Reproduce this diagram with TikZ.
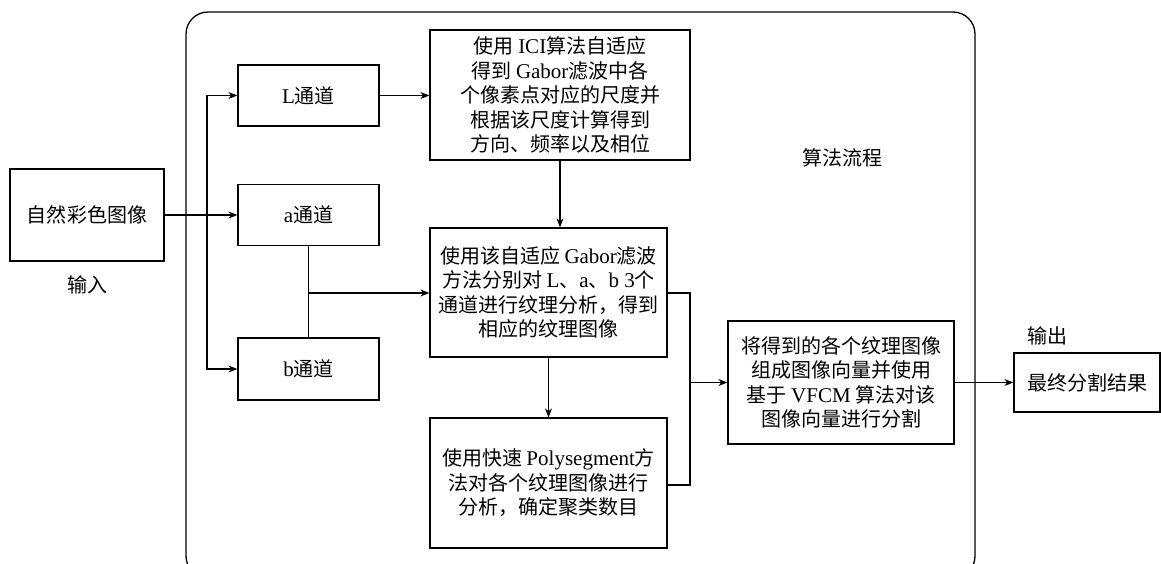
\documentclass[tikz,border=0pt]{standalone}
\usepackage{fontspec}
\setmainfont{Noto Sans CJK SC}
\newfontfamily\latf[Scale=1.05]{Liberation Serif}
\newcommand\lt[1]{{\latf #1}}
\usetikzlibrary{arrows.meta}
\tikzset{
 box/.style={draw, line width=1.3pt, align=center, inner sep=0pt, font=\fontsize{20}{24.5}\selectfont},
 conn/.style={line width=1.1pt, -{Stealth[length=9pt,width=7pt]}},
 plain/.style={line width=1.1pt},
 lab/.style={font=\fontsize{20}{24}\selectfont}
}
\begin{document}
\begin{tikzpicture}[x=1pt,y=-1pt]
\useasboundingbox (0,0) rectangle (1161,563);
\fill[white] (0,0) rectangle (1161,563);
\clip (0,0) rectangle (1161,563);
\draw[line width=1.3pt, rounded corners=22pt] (186,12) rectangle (975,578);

\node[box, minimum width=154, minimum height=92] (in) at (87,215) {自然彩色图像};
\node[box, minimum width=141, minimum height=61] (L) at (308.5,95.5) {\lt{L}通道};
\node[box, minimum width=141, minimum height=61] (a) at (308.5,215) {\lt{a}通道};
\node[box, minimum width=141, minimum height=62] (b) at (308.5,369) {\lt{b}通道};
\node[box, minimum width=260, minimum height=130] (top) at (560,95) {使用 \lt{ICI}算法自适应\\得到 \lt{Gabor}滤波中各\\个像素点对应的尺度并\\根据该尺度计算得到\\方向、频率以及相位};
\node[box, minimum width=237, minimum height=129] (mid) at (548.5,292.5) {使用该自适应 \lt{Gabor}滤波\\方法分别对 \lt{L}、\lt{a}、\lt{b 3}个\\通道进行纹理分析，得到\\相应的纹理图像};
\node[box, minimum width=237, minimum height=130] (bot) at (548.5,483) {使用快速 \lt{Polysegment}方\\法对各个纹理图像进行\\分析，确定聚类数目};
\node[box, minimum width=226, minimum height=123] (v) at (841,382.5) {将得到的各个纹理图像\\组成图像向量并使用\\基于 \lt{VFCM} 算法对该\\图像向量进行分割};
\node[box, minimum width=146, minimum height=59] (out) at (1087,382.5) {最终分割结果};

\node[lab] (li) at (87,285) {输入};
\node[lab] (lo) at (1047,336) {输出};
\node[lab] (lf) at (842,158) {算法流程};

\coordinate (sp) at (207,215);
\draw[conn] (in.east) -- (a.west);
\draw[conn] (sp) |- (L.west);
\draw[conn] (sp) |- (b.west);
\draw[conn] (L.east) -- (L.east -| top.west);
\draw[conn] (top.south) -- (top.south |- mid.north);
\draw[plain] (a.south) -- (b.north);
\coordinate (aj) at (308.5,293);
\draw[conn] (aj) -- (aj -| mid.west);
\draw[conn] (mid.south) -- (bot.north);
\coordinate (m1) at (mid.east |- aj);
\coordinate (b1) at (667,485);
\coordinate (rj) at (690,382.5);
\draw[plain] (m1) -| (rj) |- (b1);
\draw[conn] (rj) -- (v.west);
\draw[conn] (v.east) -- (out.west);
\end{tikzpicture}
\end{document}
